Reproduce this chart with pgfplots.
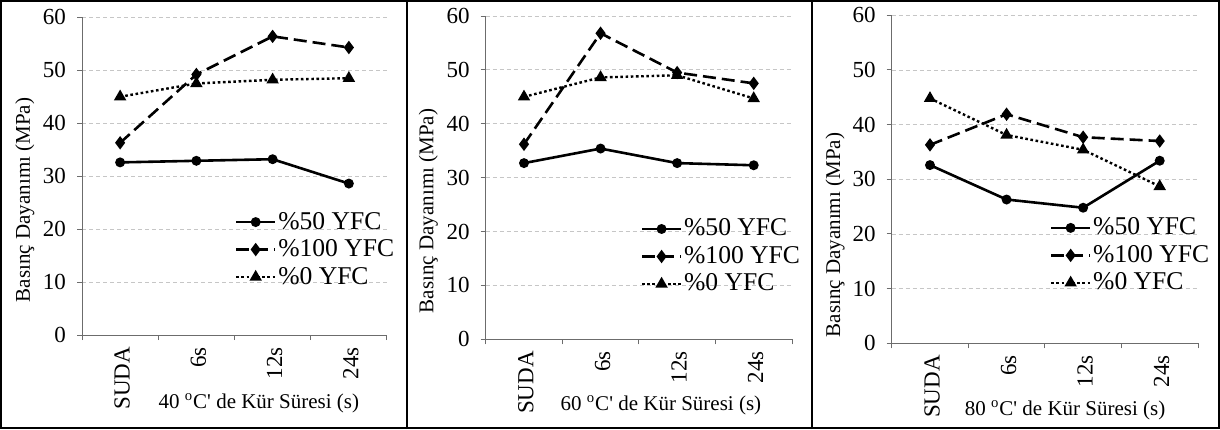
\documentclass[border=0pt]{standalone}
\usepackage{pgfplots}
\pgfplotsset{compat=1.18}
\usepackage{fontspec}
\setmainfont{Liberation Serif}
\begin{document}
\begin{tikzpicture}
\useasboundingbox (0,0) rectangle (610pt,214.5pt);
\pgfplotsset{
  panel/.style={
    scale only axis,
    axis lines*=left,
    xmin=-0.5, xmax=3.5, ymin=0, ymax=60,
    ytick={0,10,...,60},
    xtick={-0.5,0.5,1.5,2.5,3.5},
    xticklabels={SUDA,6s,12s,24s},
    x tick label as interval,
    tick align=outside,
    major tick length=2.5pt,
    every tick/.style={draw=gray!85!black, line width=0.5pt},
    axis line style={draw=gray!85!black, line width=0.5pt},
    ymajorgrids,
    major grid style={draw=gray!45, line width=0.4pt, dash pattern=on 2pt off 1.5pt},
    /pgf/number format/assume math mode=true,
    tick label style={font=\fontsize{11.5}{13}\selectfont, text=black},
    xticklabel style={rotate=90, anchor=east, yshift=-1pt},
    yticklabel style={xshift=-2pt},
    label style={font=\fontsize{10.5}{12}\selectfont},
    legend style={draw=none, fill=none, inner sep=0pt, anchor=north west,
      font=\fontsize{12.8}{14}\selectfont, row sep=0pt,
      nodes={text height=9.5pt, text depth=2.5pt, inner sep=0.875pt}},
    legend cell align=left,
    legend image code/.code={
      \draw[mark repeat=2, mark phase=2] plot coordinates {(0pt,0pt) (9.75pt,0pt) (19.5pt,0pt)};
    },
    s50/.style={black, line width=1.3pt, mark=*, mark size=1.8pt, mark options={solid}},
    s100/.style={black, line width=1.3pt, dash pattern=on 6.5pt off 3pt, mark=diamond*, mark size=2.3pt, mark options={solid}},
    s0/.style={black, line width=1.2pt, dash pattern=on 1.3pt off 1.3pt, mark=triangle*, mark size=2.4pt, mark options={solid}},
  }
}
% Panel 1
\begin{axis}[panel,
  at={(41pt,47pt)}, anchor=south west, width=152.5pt, height=158.85pt,
  xlabel={40 \textsuperscript{o}C\textquotesingle{} de Kür Süresi (s)},
  xlabel style={at={(axis description cs:0.58,0)}, anchor=center, yshift=-34pt},
  ylabel={Basınç Dayanımı (MPa)},
  ylabel style={at={(axis description cs:-0.187,0.425)}, anchor=center},
  legend style={at={(axis description cs:0.50,0.40)}}]
\addplot[s50] coordinates {(0,32.6) (1,32.9) (2,33.2) (3,28.6)};
\addplot[s100] coordinates {(0,36.3) (1,49.2) (2,56.4) (3,54.3)};
\addplot[s0] coordinates {(0,45.0) (1,47.5) (2,48.2) (3,48.5)};
\legend{\%50 YFC,\%100 YFC,\%0 YFC}
\end{axis}
% Panel 2
\begin{axis}[panel,
  at={(242.85pt,44.85pt)}, anchor=south west, width=153.15pt, height=161.65pt,
  xlabel={60 \textsuperscript{o}C\textquotesingle{} de Kür Süresi (s)},
  xlabel style={at={(axis description cs:0.572,0)}, anchor=center, yshift=-33pt},
  ylabel={Basınç Dayanımı (MPa)},
  ylabel style={at={(axis description cs:-0.187,0.397)}, anchor=center},
  legend style={at={(axis description cs:0.505,0.385)}}]
\addplot[s50] coordinates {(0,32.7) (1,35.4) (2,32.7) (3,32.3)};
\addplot[s100] coordinates {(0,36.2) (1,56.8) (2,49.5) (3,47.5)};
\addplot[s0] coordinates {(0,45.0) (1,48.6) (2,49.0) (3,44.7)};
\legend{\%50 YFC,\%100 YFC,\%0 YFC}
\end{axis}
% Panel 3
\begin{axis}[panel,
  at={(445.85pt,42.85pt)}, anchor=south west, width=153.15pt, height=164pt,
  xlabel={80 \textsuperscript{o}C\textquotesingle{} de Kür Süresi (s)},
  xlabel style={at={(axis description cs:0.566,0)}, anchor=center, yshift=-33.3pt},
  ylabel={Basınç Dayanımı (MPa)},
  ylabel style={at={(axis description cs:-0.185,0.33)}, anchor=center},
  legend style={at={(axis description cs:0.515,0.395)}}]
\addplot[s50] coordinates {(0,32.6) (1,26.3) (2,24.8) (3,33.4)};
\addplot[s100] coordinates {(0,36.3) (1,41.9) (2,37.7) (3,37.0)};
\addplot[s0] coordinates {(0,44.8) (1,38.1) (2,35.4) (3,28.7)};
\legend{\%50 YFC,\%100 YFC,\%0 YFC}
\end{axis}
% frames
\draw[line width=1.1pt] (0.55pt,0.55pt) rectangle (609.45pt,213.95pt);
\draw[line width=1.1pt] (203.3pt,0pt) -- (203.3pt,214.5pt);
\draw[line width=1.1pt] (406pt,0pt) -- (406pt,214.5pt);
\end{tikzpicture}
\end{document}
